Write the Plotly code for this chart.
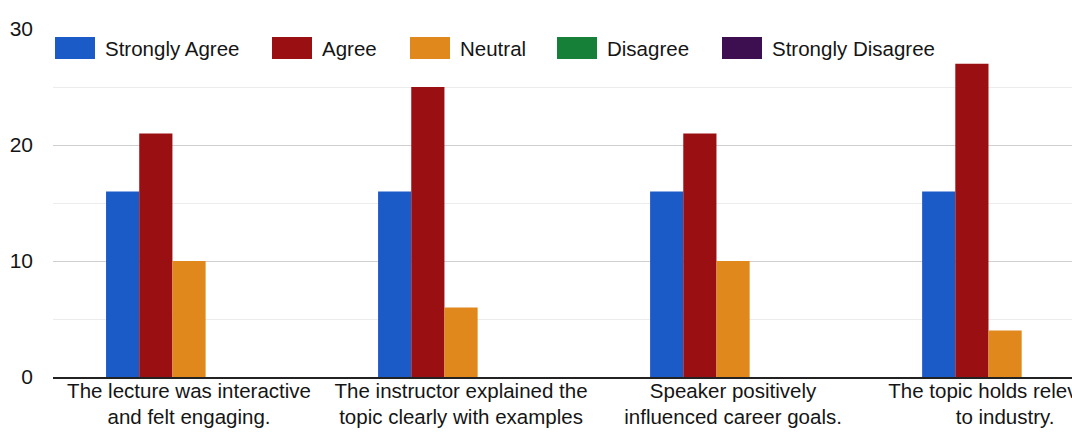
import plotly.graph_objects as go

categories = [
    "The lecture was interactive<br>and felt engaging.",
    "The instructor explained the<br>topic clearly with examples",
    "Speaker positively<br>influenced career goals.",
    "The topic holds relevance<br>to industry.",
]
series_names = ["Strongly Agree", "Agree", "Neutral", "Disagree", "Strongly Disagree"]
strongly_agree = [16, 16, 16, 16]
agree = [21, 25, 21, 27]
neutral = [10, 6, 10, 4]
disagree = [0, 0, 0, 0]
strongly_disagree = [0, 0, 0, 0]
y_ticks = [0, 10, 20, 30]

colors = ["#1a5bc8", "#9a0f12", "#e0881c", "#178038", "#3d0f50"]
values = [strongly_agree, agree, neutral, disagree, strongly_disagree]

font_family = "Arial, Liberation Sans, sans-serif"
text_color = "#151515"

W, H = 1072, 432
ML, MR, MT, MB = 53, 0, 29, 55
PW, PH = W - ML - MR, H - MT - MB

fig = go.Figure()
for name, vals, col in zip(series_names, values, colors):
    fig.add_trace(go.Bar(x=categories, y=vals, name=name, showlegend=False,
                         marker=dict(color=col, line=dict(width=0))))

# custom legend (large swatches like the reference)
legend_px = [55, 272, 410, 557, 722]
legend_cy = 48
shapes = []
annotations = []
for name, col, px in zip(series_names, colors, legend_px):
    x0 = (px - ML) / PW
    x1 = (px + 40 - ML) / PW
    y0 = (H - MB - (legend_cy + 11)) / PH
    y1 = (H - MB - (legend_cy - 11)) / PH
    shapes.append(dict(type="rect", xref="paper", yref="paper", x0=x0, x1=x1, y0=y0, y1=y1,
                       fillcolor=col, line=dict(width=0), layer="above"))
    annotations.append(dict(text=name, xref="paper", yref="paper",
                            x=(px + 48 - ML) / PW, y=(H - MB - legend_cy) / PH,
                            xanchor="left", yanchor="middle", showarrow=False,
                            font=dict(size=20.5, color=text_color, family=font_family)))

fig.update_layout(
    width=W,
    height=H,
    barmode="group",
    bargap=0.39,
    bargroupgap=0,
    plot_bgcolor="white",
    paper_bgcolor="white",
    margin=dict(l=ML, r=MR, t=MT, b=MB, autoexpand=False),
    font=dict(family=font_family, size=20, color=text_color),
    showlegend=False,
    shapes=shapes,
    annotations=annotations,
    xaxis=dict(
        range=[-0.5, 3.246],
        automargin=False,
        showline=True,
        linecolor="#222222",
        linewidth=2,
        ticks="",
        showgrid=False,
        ticklabelstandoff=-6,
        tickfont=dict(size=20.5),
    ),
    yaxis=dict(
        range=[0, 30],
        automargin=False,
        tickvals=y_ticks,
        showgrid=True,
        gridcolor="#cfcfcf",
        gridwidth=1,
        zeroline=False,
        ticks="",
        ticklabelstandoff=19,
        tickfont=dict(size=21),
        minor=dict(dtick=5, showgrid=True, gridcolor="#ececec", gridwidth=1),
    ),
)

fig.write_html(
    "out.html",
    config={"displayModeBar": False},
    post_script="document.body.style.margin='0';document.body.style.padding='0';",
)
